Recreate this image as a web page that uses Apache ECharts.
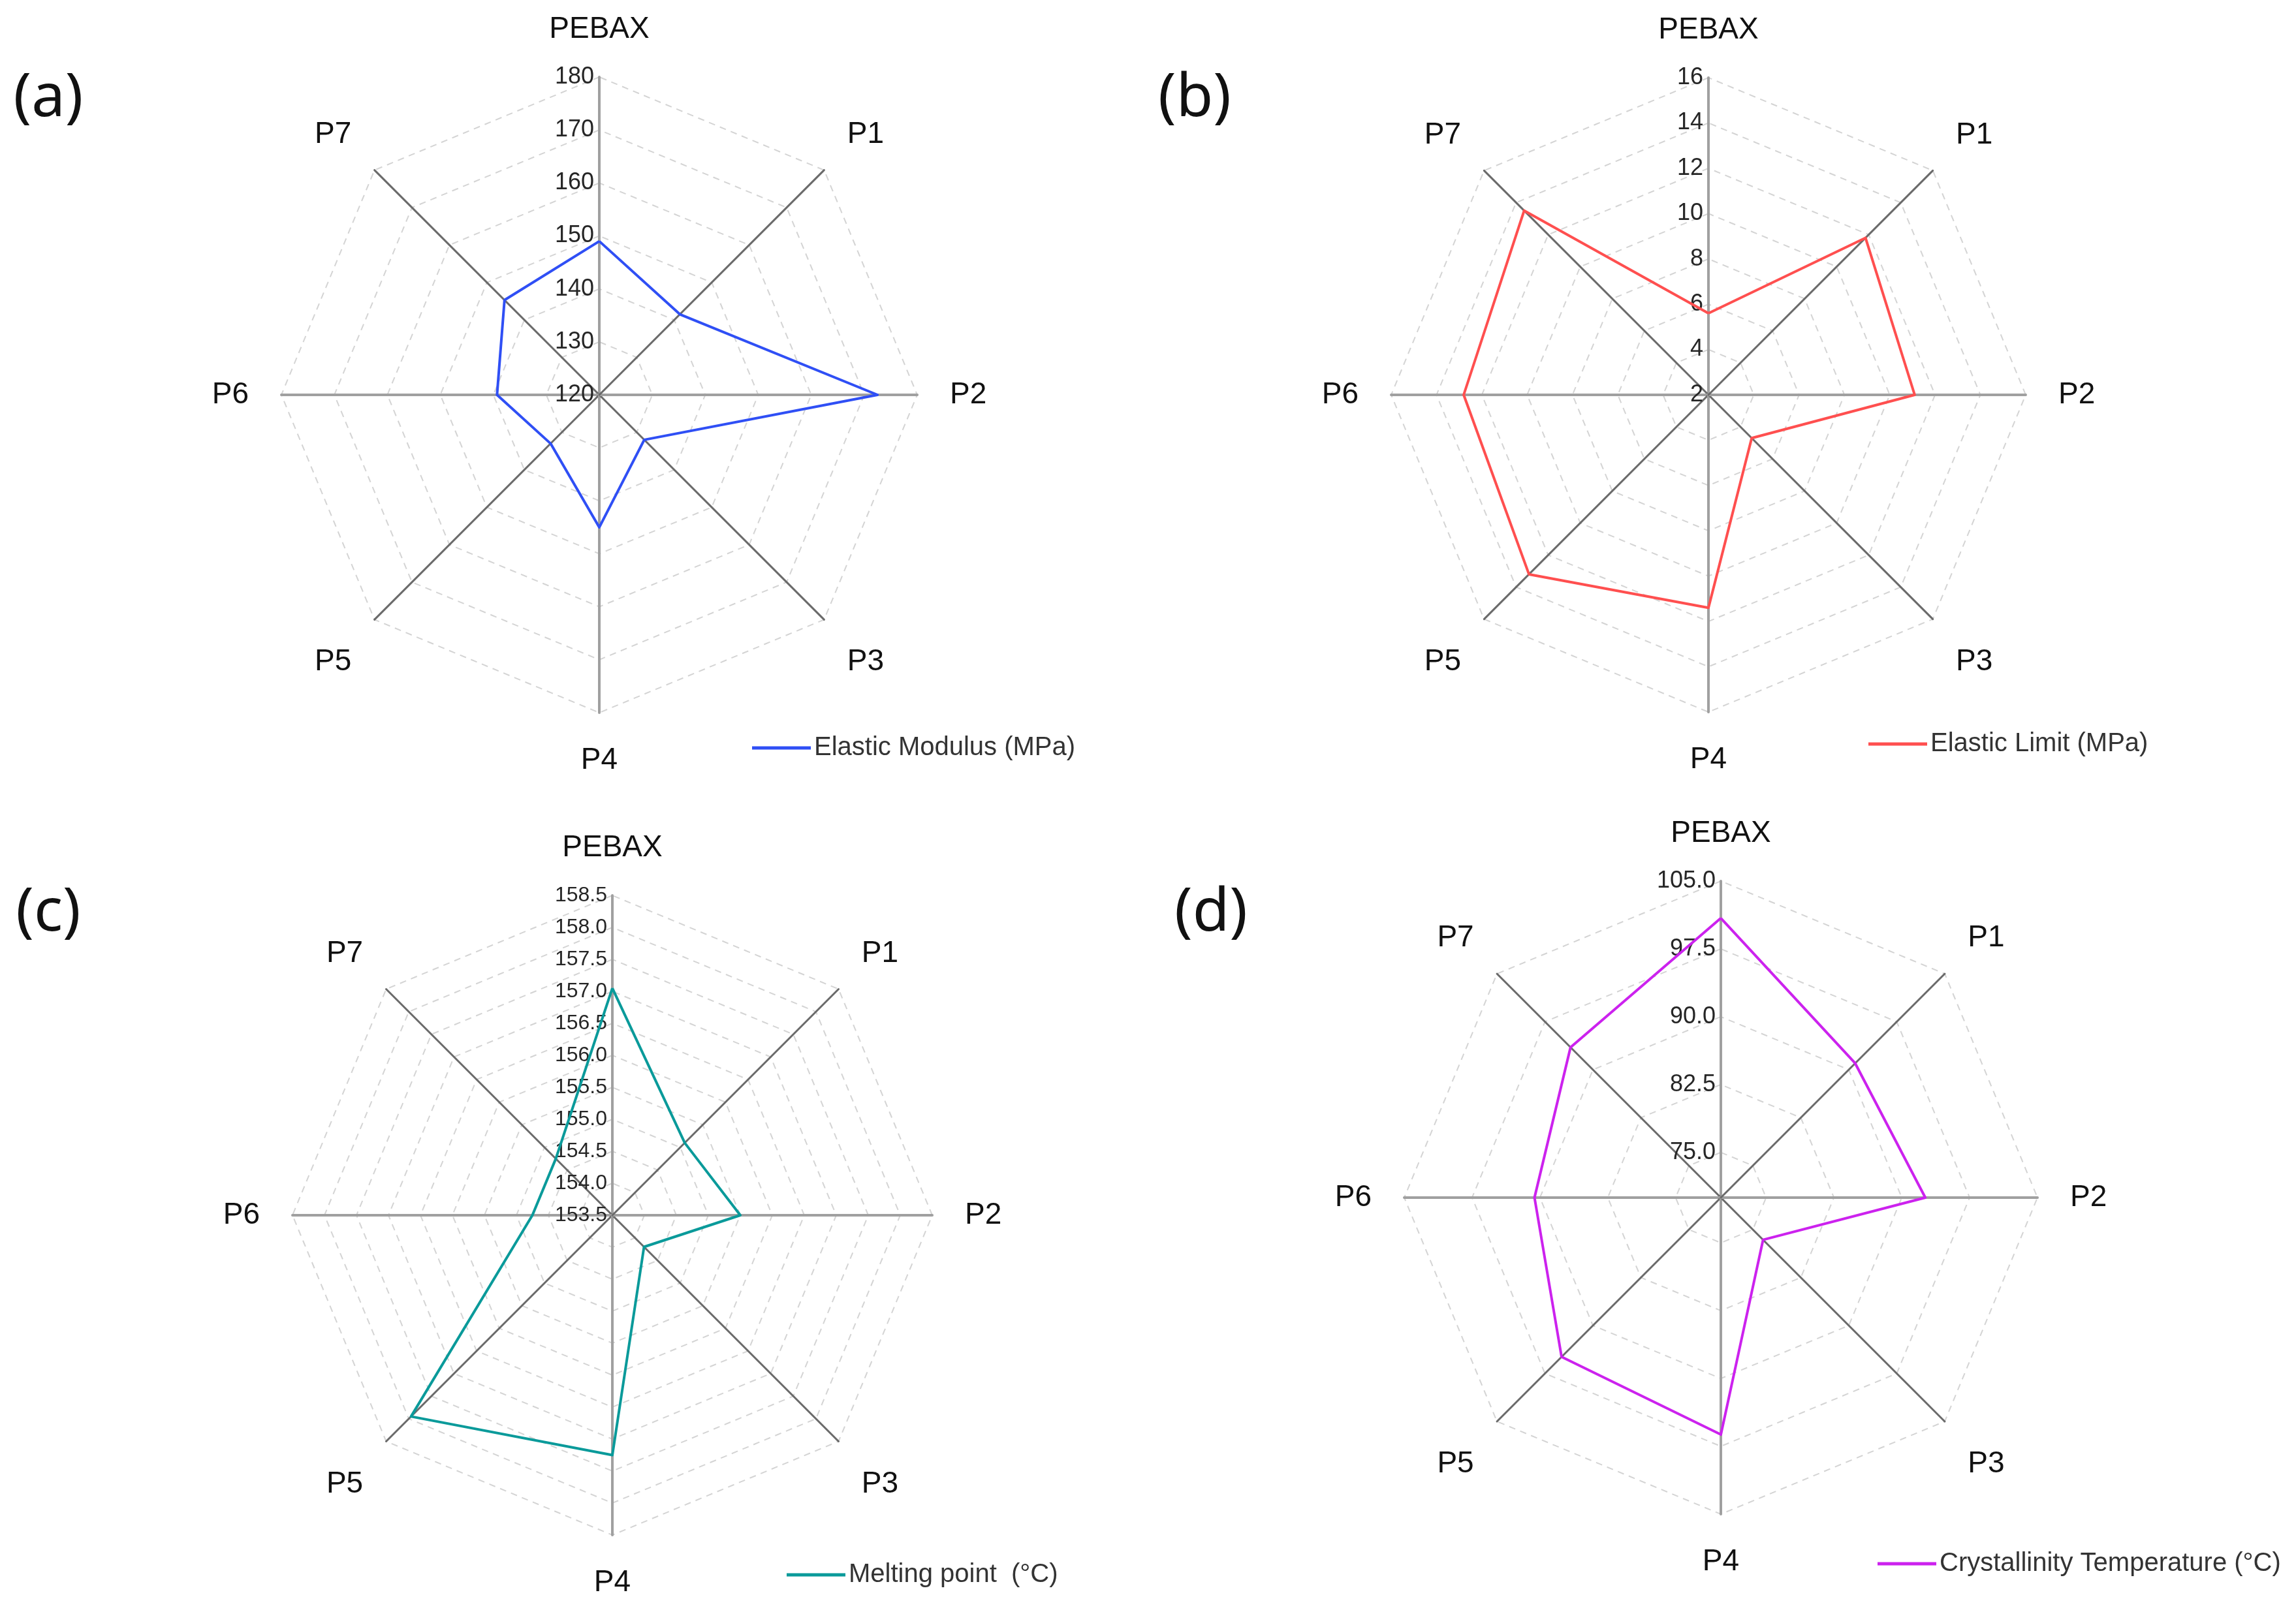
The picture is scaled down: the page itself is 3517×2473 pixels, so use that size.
<!DOCTYPE html>
<html><head><meta charset="utf-8">
<script src="https://cdn.jsdelivr.net/npm/echarts@6/dist/echarts.min.js"></script>
<style>html,body{margin:0;padding:0;background:#fff}#c{width:3517px;height:2473px}</style>
</head><body><div id="c"></div>
<script>
// ---- data ----
const categories = ['PEBAX', 'P1', 'P2', 'P3', 'P4', 'P5', 'P6', 'P7'];
const elasticModulus = [149, 141.5, 172.5, 132, 145, 133, 139.3, 145.3];
const elasticLimit = [5.6, 11.8, 11.1, 4.7, 11.4, 13.2, 12.8, 13.5];
const meltingPoint = [157.05, 155.1, 155.5, 154.2, 157.25, 157.95, 154.75, 154.75];
const crystallinityTemp = [100.9, 91, 92.6, 76.6, 96.2, 94.9, 90.6, 93.5];
const ticksA = ['120', '130', '140', '150', '160', '170', '180'];
const ticksB = ['2', '4', '6', '8', '10', '12', '14', '16'];
const ticksC = ['153.5', '154.0', '154.5', '155.0', '155.5', '156.0', '156.5', '157.0', '157.5', '158.0', '158.5'];
const ticksD = ['75.0', '82.5', '90.0', '97.5', '105.0'];
const panelLabels = ['(a)', '(b)', '(c)', '(d)'];
const seriesNames = ['Elastic Modulus (MPa)', 'Elastic Limit (MPa)', 'Melting point  (°C)', 'Crystallinity Temperature (°C)'];

// ---- layout / style ----
const FONT = '"Liberation Sans", Arial, sans-serif';
const GRID = '#d4d4d4';
const panels = [
  {values: elasticModulus, ticks: ticksA, min: 120, max: 180, split: 6, dec: 0, ring: [GRID],
   center: [918, 605], radius: 487, color: '#2f4ff5', labelSize: 36, legend: [1152, 1126], tag: [74, 152]},
  {values: elasticLimit, ticks: ticksB, min: 2, max: 16, split: 7, dec: 0, ring: [GRID],
   center: [2617, 605], radius: 486, color: '#ff4f4f', labelSize: 36, legend: [2862, 1120], tag: [1830, 152]},
  {values: meltingPoint, ticks: ticksC, min: 153.5, max: 158.5, split: 10, dec: 1, ring: [GRID],
   center: [938, 1862], radius: 490, color: '#0a9a9a', labelSize: 32, legend: [1205, 2393], tag: [74, 1400]},
  {values: crystallinityTemp, ticks: ticksD, min: 70, max: 105, split: 14, dec: 1, ring: ['rgba(0,0,0,0)', 'rgba(0,0,0,0)', GRID],
   center: [2636, 1835], radius: 485, color: '#cc22ee', labelSize: 36, legend: [2876, 2376], tag: [1855, 1400]}
];
// ECharts radar goes counter-clockwise; reference goes clockwise from top
const order = [0, 7, 6, 5, 4, 3, 2, 1];

const nameStyle = {color: '#111', fontSize: 46, fontFamily: FONT};
const radar = [], series = [], legend = [], graphic = [];
panels.forEach((p, i) => {
  const fmt = v => { const s = Number(v).toFixed(p.dec); return p.ticks.includes(s) ? s : ''; };
  radar.push({
    center: p.center, radius: p.radius, startAngle: 90, shape: 'polygon',
    splitNumber: p.split,
    axisName: {
      color: '#111', fontSize: 46, fontFamily: FONT,
      formatter: (name) => {
        const k = categories.indexOf(name);
        const key = (k === 1 || k === 7) ? 'up' : (k === 3 || k === 5) ? 'dn' : 'n';
        return '{' + key + '|' + name + '}';
      },
      rich: {
        n: Object.assign({}, nameStyle),
        up: Object.assign({padding: [0, 0, 38, 0]}, nameStyle),
        dn: Object.assign({padding: [60, 0, 0, 0]}, nameStyle)
      }
    },
    axisNameGap: 50,
    axisLine: {show: true, lineStyle: {color: '#7a7a7a', width: 3}},
    axisTick: {show: false},
    axisLabel: {show: false},
    splitLine: {show: true, lineStyle: {color: p.ring, width: 2, type: [10, 8]}},
    splitArea: {show: false},
    indicator: order.map((k, j) => {
      const o = {name: categories[k], min: p.min, max: p.max,
        axisLine: {lineStyle: {color: k % 2 === 0 ? '#a0a0a0' : '#6a6a6a', width: k % 2 === 0 ? 4 : 3}}};
      if (j === 0) o.axisLabel = {show: true, fontSize: p.labelSize, color: '#262626', fontFamily: FONT, margin: 8, formatter: fmt};
      return o;
    })
  });
  series.push({
    type: 'radar', radarIndex: i, name: seriesNames[i], symbol: 'none',
    itemStyle: {color: p.color},
    lineStyle: {color: p.color, width: 4},
    data: [{name: seriesNames[i], value: order.map(k => p.values[k])}]
  });
  legend.push({
    data: [seriesNames[i]], left: p.legend[0], top: p.legend[1], padding: 0,
    icon: 'rect', itemWidth: 90, itemHeight: 5,
    textStyle: {fontSize: 40, color: '#333', fontFamily: FONT}
  });
  graphic.push({type: 'text', x: p.tag[0], y: p.tag[1],
    style: {text: panelLabels[i], font: '92px "Noto Sans", sans-serif', fill: '#111', textAlign: 'center', textVerticalAlign: 'middle'}});
});

const chart = echarts.init(document.getElementById('c'), null, {renderer: 'canvas'});
chart.setOption({backgroundColor: '#fff', animation: false, radar, series, legend, graphic});
</script></body></html>
